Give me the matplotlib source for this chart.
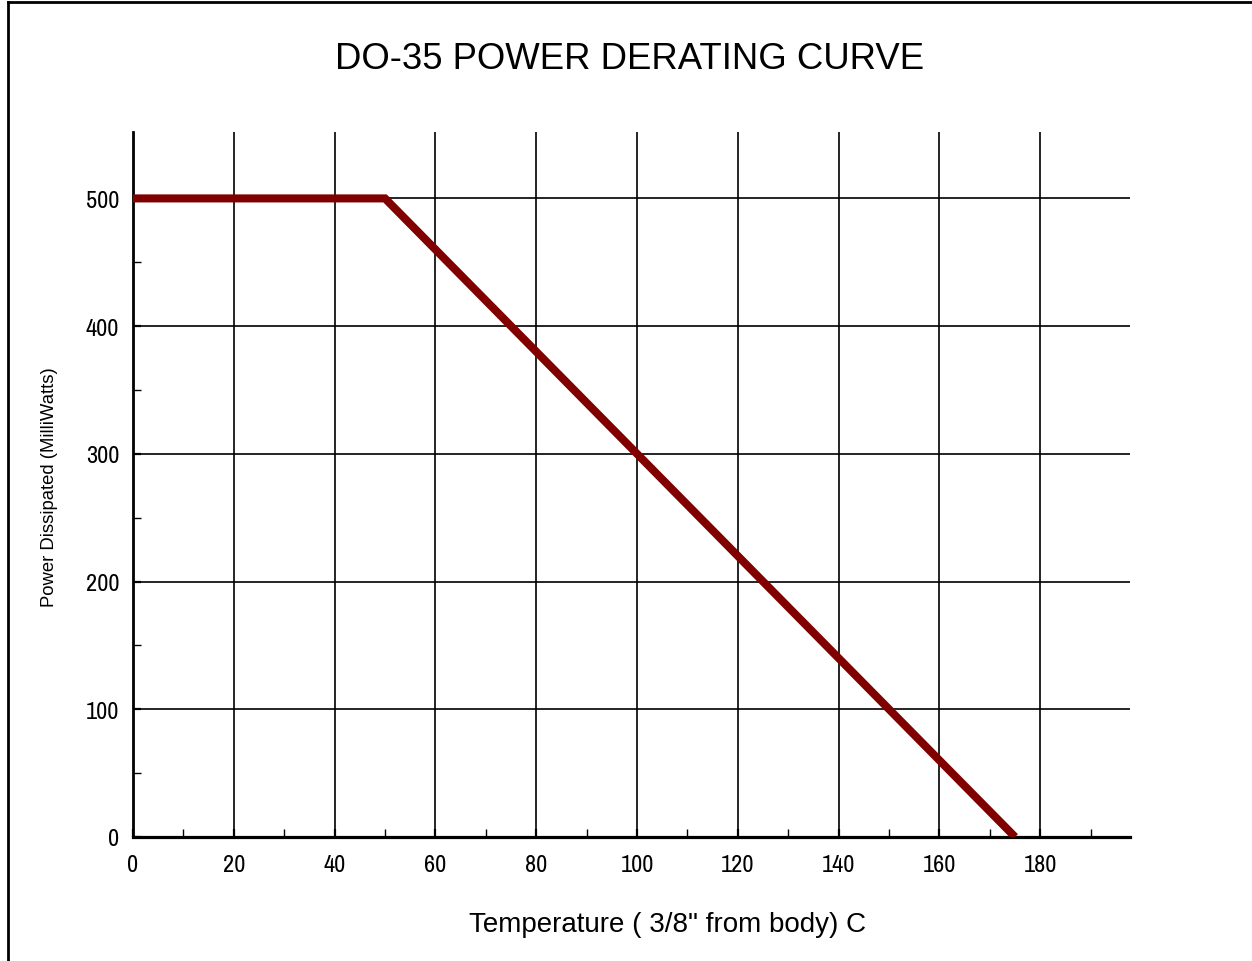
import matplotlib
matplotlib.use("Agg")
import matplotlib.pyplot as plt
from matplotlib.lines import Line2D
from matplotlib.ticker import FixedLocator

# Data
temperature = [0, 50, 175]
power_mw = [500, 500, 0]
x_ticks = [0, 20, 40, 60, 80, 100, 120, 140, 160, 180]
x_minor_ticks = [10, 30, 50, 70, 90, 110, 130, 150, 170, 190]
y_ticks = [0, 100, 200, 300, 400, 500]
y_minor_ticks = [50, 150, 250, 350, 450]
title_text = "DO-35 POWER DERATING CURVE"
xlabel_text = 'Temperature ( 3/8" from body) C'
ylabel_text = "Power Dissipated (MilliWatts)"

W, H = 1252, 962
fig = plt.figure(figsize=(W / 100, H / 100), dpi=100)
fig.patch.set_facecolor("white")

narrow = ["Archivo Narrow", "Liberation Sans", "DejaVu Sans"]
regular = ["Liberation Sans", "DejaVu Sans"]

# figure border (top and left)
fig.add_artist(Line2D([8 / W, 1.0], [1 - 3 / H, 1 - 3 / H], color="black", lw=2.0,
                      transform=fig.transFigure))
fig.add_artist(Line2D([8 / W, 8 / W], [0, 1 - 3 / H], color="black", lw=2.0,
                      transform=fig.transFigure))

left, right, bottom, top = 133, 1130, 838, 133
ax = fig.add_axes([left / W, 1 - bottom / H, (right - left) / W, (bottom - top) / H])
ax.set_xlim(0, 197.8)
ax.set_ylim(0, 552)

for s in ["top", "right"]:
    ax.spines[s].set_visible(False)
ax.spines["left"].set_linewidth(2.0)
ax.spines["bottom"].set_linewidth(2.3)

ax.set_xticks(x_ticks)
ax.set_yticks(y_ticks)
ax.xaxis.set_minor_locator(FixedLocator(x_minor_ticks))
ax.yaxis.set_minor_locator(FixedLocator(y_minor_ticks))
ax.tick_params(which="major", direction="in", length=6, width=1.6, colors="black")
ax.tick_params(which="minor", direction="in", length=6, width=1.0, colors="black")
ax.tick_params(axis="x", which="major", pad=12.5, labelsize=17.5)
ax.tick_params(axis="y", which="major", pad=10, labelsize=17.5)
for lab in ax.get_xticklabels() + ax.get_yticklabels():
    lab.set_family(narrow)

ax.grid(True, which="major", color="black", linewidth=1.2)
ax.set_axisbelow(True)

ax.plot(temperature, power_mw, color="#800000", linewidth=5.8,
        solid_capstyle="butt", solid_joinstyle="miter", zorder=3)

fig.text(630 / W, 1 - 69 / H, title_text, ha="center", va="baseline",
         fontsize=26.3, family=regular)
fig.text(668 / W, 1 - 932 / H, xlabel_text, ha="center", va="baseline",
         fontsize=20, family=regular)
fig.text(50 / W, 1 - 487 / H, ylabel_text, ha="center", va="center",
         rotation=90, fontsize=13.3, family=regular)

fig.savefig("out.png", dpi=100)
